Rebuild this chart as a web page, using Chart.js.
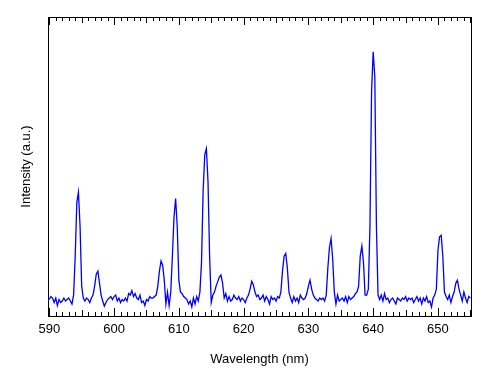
<!DOCTYPE html>
<html>
<head>
<meta charset="utf-8">
<script src="https://cdn.jsdelivr.net/npm/chart.js@4"></script>
<style>
  html, body { margin: 0; padding: 0; background: #fff; }
  #wrap { width: 493px; height: 370px; }
</style>
</head>
<body>
<div id="wrap"><canvas id="spectrum"></canvas></div>
<script>
// sampling grid of the spectrometer (nm)
const wlStart = 590;
const wlStep = 0.25;

// intensity (a.u.), 4 samples per nm starting at 590.0
const intensity = [
    5.5, 6.5, 6, 4.5,      // 590
    6, 3.5, 5.5, 4.5,      // 591
    5, 6, 5, 5.5,          // 592
    6, 5, 4, 7,            // 593
    20, 38, 41.4, 30,      // 594
    10, 6, 5, 6,           // 595
    5.5, 4.5, 6, 7,        // 596
    10, 14, 15, 11,        // 597
    7, 5, 3.3, 4.5,        // 598
    5.5, 6, 6.5, 5.5,      // 599
    6.5, 7, 5, 6,          // 600
    4.5, 5.5, 5, 6,        // 601
    5, 7.5, 7, 8.5,        // 602
    6.5, 7.5, 6, 5.5,      // 603
    7, 4.5, 5, 3.5,        // 604
    5.5, 5, 6.5, 6,        // 605
    6, 6.5, 7, 10,         // 606
    15, 18.4, 17, 12,      // 607
    4, 8, 3.5, 8,          // 608
    20, 33, 39.3, 30,      // 609
    12, 8, 7.5, 6.5,       // 610
    6, 5.5, 4, 5,          // 611
    3, 6, 4, 6.5,          // 612
    5, 8, 18, 42,          // 613
    54, 56, 45, 20,        // 614
    4.5, 7, 8, 10,         // 615
    11.5, 13, 13.7, 11,    // 616
    6, 7.5, 5, 6.5,        // 617
    5, 5.5, 7, 6,          // 618
    5.5, 6.5, 5, 6,        // 619
    5.5, 4.5, 6, 7,        // 620
    9, 11.6, 10.5, 8,      // 621
    6.5, 7, 5.5, 6,        // 622
    7, 5, 6.5, 5.5,        // 623
    4, 6.5, 5.5, 6,        // 624
    5, 6.5, 6, 8,          // 625
    15, 20, 20.9, 16,      // 626
    8, 6, 4.5, 6.5,        // 627
    5, 6, 4.5, 7,          // 628
    6, 5.5, 6, 7.5,        // 629
    10, 12, 9, 7,          // 630
    6, 5.5, 5, 6,          // 631
    5.5, 6, 5, 7,          // 632
    16, 23, 25.9, 19,      // 633
    8, 4, 7, 5,            // 634
    5.5, 6, 5, 6.5,        // 635
    4.5, 6.5, 5.5, 6,      // 636
    6.5, 7.5, 8, 10,       // 637
    20, 23.4, 18, 7,       // 638
    7, 9, 30, 75,          // 639
    88.4, 80, 30, 7,       // 640
    5.5, 7, 5, 7.5,        // 641
    5.5, 6, 4.5, 5.5,      // 642
    6, 5, 4, 6,            // 643
    5.5, 5, 6, 5.5,        // 644
    6.5, 5, 6, 5.5,        // 645
    6, 4.5, 5.5, 6.5,      // 646
    5, 6, 4, 6,            // 647
    5, 6.5, 4.5, 5,        // 648
    3, 6, 7, 9,            // 649
    22, 26.5, 27, 20,      // 650
    8, 6.5, 5.5, 7,        // 651
    4.5, 6.5, 8, 11,       // 652
    12, 9, 7, 5,           // 653
    8, 6, 4.5, 6.5,        // 654
    6                      // 655
];

const xTicks = [590, 600, 610, 620, 630, 640, 650];
const xMin = 589.8;
const xMax = 655.1;

const points = intensity.map((v, i) => ({ x: wlStart + i * wlStep, y: v }));

// box round the plot, with inward ticks on top and bottom
const frameAndTicks = {
    id: 'frameAndTicks',
    afterDraw(chart) {
        const { ctx, chartArea } = chart;
        const xs = chart.scales.x;
        ctx.save();
        ctx.strokeStyle = '#000';
        ctx.lineWidth = 1;
        ctx.strokeRect(chartArea.left + 0.5, chartArea.top + 0.5,
            chartArea.right - chartArea.left, chartArea.bottom - chartArea.top);
        ctx.beginPath();
        for (let v = 590; v <= 655; v++) {
            const len = v % 10 === 0 ? 8 : (v % 5 === 0 ? 6 : 4);
            const px = Math.round(xs.getPixelForValue(v)) + 0.5;
            ctx.moveTo(px, chartArea.bottom);
            ctx.lineTo(px, chartArea.bottom - len);
            ctx.moveTo(px, chartArea.top);
            ctx.lineTo(px, chartArea.top + len);
        }
        ctx.stroke();
        ctx.restore();
    }
};

new Chart(document.getElementById('spectrum'), {
    type: 'line',
    data: {
        datasets: [{
            data: points,
            borderColor: '#0000ff',
            borderWidth: 1.3,
            pointRadius: 0,
            tension: 0,
            fill: false
        }]
    },
    options: {
        responsive: true,
        maintainAspectRatio: false,
        animation: false,
        layout: { padding: { top: 17, right: 22, bottom: 0, left: 0 } },
        plugins: {
            legend: { display: false },
            tooltip: { enabled: false }
        },
        scales: {
            x: {
                type: 'linear',
                min: xMin,
                max: xMax,
                afterBuildTicks: scale => { scale.ticks = xTicks.map(v => ({ value: v })); },
                afterFit: scale => { scale.height = 54; },
                grid: { display: false, drawTicks: false },
                border: { display: false },
                ticks: {
                    color: '#000',
                    padding: 6,
                    maxRotation: 0,
                    font: { family: 'Liberation Sans, Arial, sans-serif', size: 13 }
                },
                title: {
                    display: true,
                    text: 'Wavelength (nm)',
                    color: '#000',
                    padding: { top: 0, bottom: 3 },
                    font: { family: 'Liberation Sans, Arial, sans-serif', size: 13 }
                }
            },
            y: {
                min: 0,
                max: 100,
                afterFit: scale => { scale.width = 48; },
                grid: { display: false, drawTicks: false },
                border: { display: false },
                ticks: { display: false },
                title: {
                    display: true,
                    text: 'Intensity (a.u.)',
                    color: '#000',
                    padding: { top: 19, bottom: 0 },
                    font: { family: 'Liberation Sans, Arial, sans-serif', size: 13 }
                }
            }
        }
    },
    plugins: [frameAndTicks]
});
</script>
</body>
</html>
